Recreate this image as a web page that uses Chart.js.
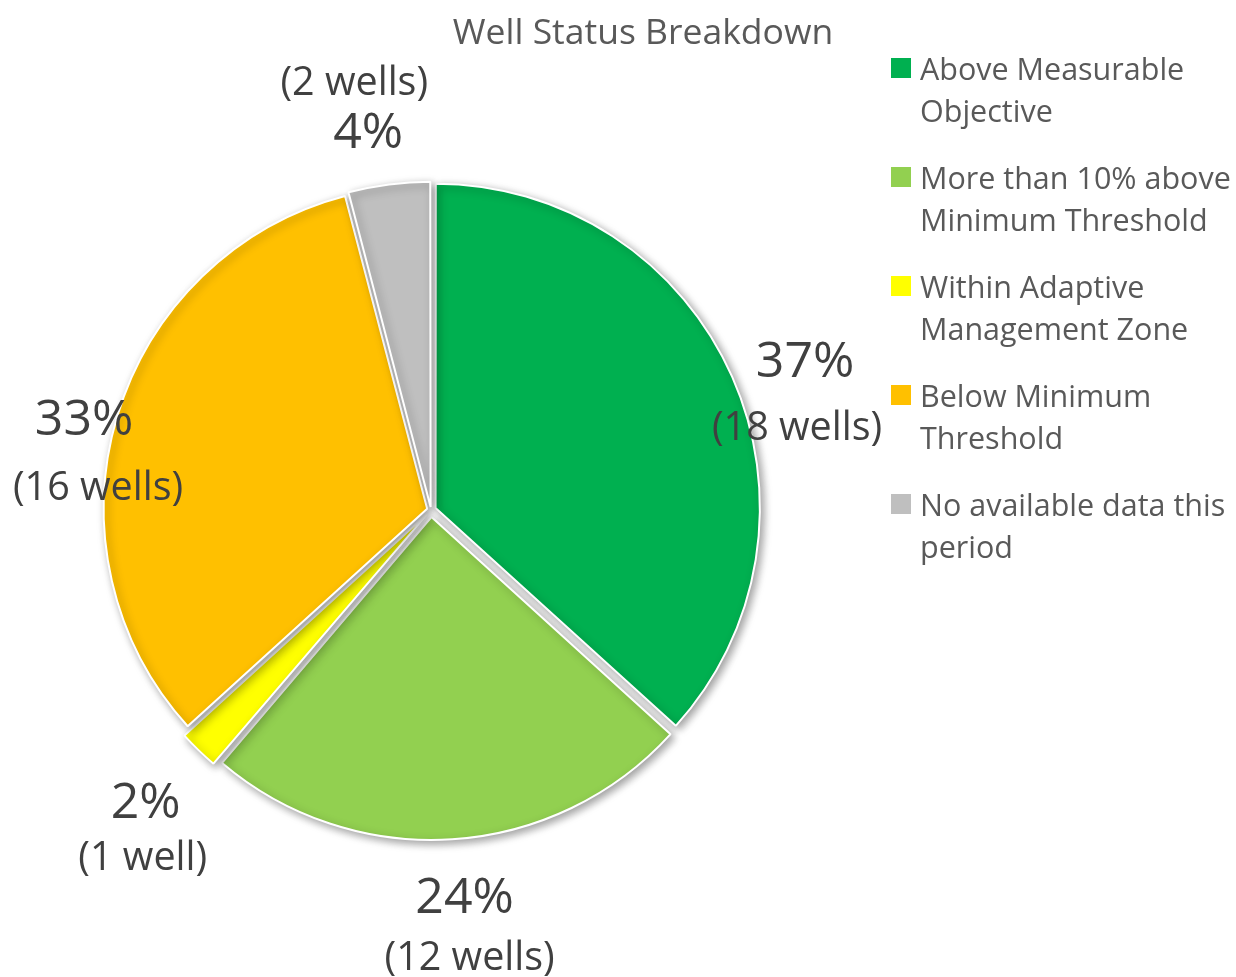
<!DOCTYPE html>
<html>
<head>
<meta charset="utf-8">
<script src="https://cdn.jsdelivr.net/npm/chart.js@4.4.1/dist/chart.umd.min.js"></script>
<style>
  html, body { margin:0; padding:0; background:#fff; }
  #wrap { position:relative; width:1236px; height:977px; overflow:hidden; font-family:"Open Sans", "Noto Sans", sans-serif; }
  #c { position:absolute; left:0; top:0; }
  #title { position:absolute; left:0; width:1286px; top:6px; line-height:48px; text-align:center; font-size:35.5px; color:#595959; }
  #legend { position:absolute; left:890px; top:47px; width:360px; }
  .item { position:relative; padding-left:30px; height:109px; font-size:30.5px; line-height:42px; color:#595959; }
  .sw { position:absolute; left:1px; top:11px; width:20px; height:20px; }
</style>
</head>
<body>
<div id="wrap">
  <canvas id="c" width="1236" height="977"></canvas>
  <div id="title">Well Status Breakdown</div>
  <div id="legend"></div>
</div>
<script>
const categories = ["Above Measurable Objective", "More than 10% above Minimum Threshold", "Within Adaptive Management Zone", "Below Minimum Threshold", "No available data this period"];
const wellCounts = [18, 12, 1, 16, 2];
const percentLabels = ["37%", "24%", "2%", "33%", "4%"];
const wellLabels = ["(18 wells)", "(12 wells)", "(1 well)", "(16 wells)", "(2 wells)"];
const colors = ["#00B050", "#92D050", "#FFFF00", "#FFC000", "#BFBFBF"];

// label placement relative to each slice: angle shift (deg) from mid-angle, distance from center (px),
// vertical gap from percent baseline to wells baseline, horizontal nudge of the wells line
const labelPlacement = [
  {shift: 4.3, dist: 397, gap: 63, wdx: -8},
  {shift: -1.1, dist: 404, gap: 57, wdx: 5},
  {shift: -1.3, dist: 420, gap: 52, wdx: -3},
  {shift: -4.3, dist: 355, gap: 65, wdx: 14},
  {shift: -2.5, dist: 367, gap: -53, wdx: -14}
];

// legend
const lg = document.getElementById('legend');
categories.forEach((c, i) => {
  const d = document.createElement('div');
  d.className = 'item';
  d.innerHTML = '<span class="sw" style="background:' + colors[i] + '"></span>' + c;
  lg.appendChild(d);
});

const shadowPlugin = {
  id: 'shadow',
  beforeDatasetDraw(chart) {
    const ctx = chart.ctx;
    ctx.save();
    ctx.shadowColor = 'rgba(0,0,0,0.38)';
    ctx.shadowBlur = 9;
    ctx.shadowOffsetX = 3;
    ctx.shadowOffsetY = 3;
  },
  afterDatasetDraw(chart) {
    chart.ctx.restore();
  }
};

const labelPlugin = {
  id: 'sliceLabels',
  afterDatasetsDraw(chart) {
    const ctx = chart.ctx;
    const meta = chart.getDatasetMeta(0);
    ctx.save();
    ctx.fillStyle = '#404040';
    ctx.textAlign = 'center';
    ctx.textBaseline = 'alphabetic';
    meta.data.forEach((arc, i) => {
      const p = arc.getProps(['x', 'y', 'startAngle', 'endAngle']);
      const pl = labelPlacement[i];
      const mid = (p.startAngle + p.endAngle) / 2 + pl.shift * Math.PI / 180;
      const cx = p.x + Math.cos(mid) * pl.dist;
      const cy = p.y + Math.sin(mid) * pl.dist;
      ctx.font = '50px "Open Sans"';
      ctx.fillText(percentLabels[i], cx, cy);
      ctx.font = '39.5px "Open Sans"';
      ctx.fillText(wellLabels[i], cx + pl.wdx, cy + pl.gap);
    });
    ctx.restore();
  }
};

new Chart(document.getElementById('c'), {
  type: 'pie',
  data: {
    labels: categories,
    datasets: [{
      data: wellCounts,
      backgroundColor: colors,
      borderColor: '#ffffff',
      borderWidth: 2,
      offset: [20, 28, 24, 16, 12],
      radius: 323
    }]
  },
  options: {
    responsive: false,
    animation: false,
    layout: { padding: { left: 0, right: 374, top: 43, bottom: 0 } },
    plugins: {
      legend: { display: false },
      title: { display: false },
      tooltip: { enabled: false }
    }
  },
  plugins: [shadowPlugin, labelPlugin]
});
</script>
</body>
</html>
